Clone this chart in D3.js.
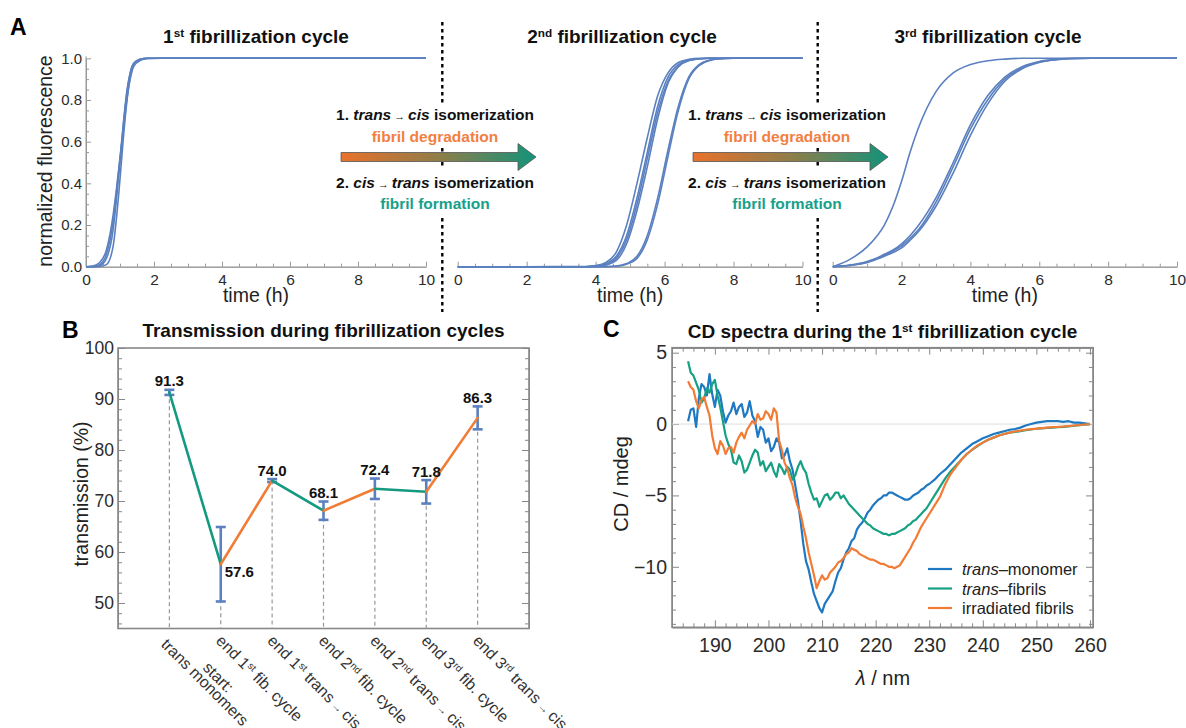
<!DOCTYPE html>
<html>
<head>
<meta charset="utf-8">
<script src="https://cdn.jsdelivr.net/npm/d3@7"></script>
<style>
  body { margin: 0; background: #fff; }
</style>
</head>
<body>
<svg id="fig" width="1186" height="728"></svg>
<script>
// ---------------- data ----------------
// A: normalized ThT fluorescence
const timeTicks = [0, 2, 4, 6, 8, 10];
const fluorTicks = [0, 0.2, 0.4, 0.6, 0.8, 1.0];

const cycle1Time = [0, 0.2, 0.4, 0.6, 0.8, 0.9, 1.0, 1.1, 1.2, 1.3, 1.4, 1.6, 1.8, 2.2, 10];
const cycle1Curves = [
  [0, 0.003, 0.02, 0.08, 0.25, 0.38, 0.52, 0.66, 0.8, 0.9, 0.96, 0.99, 0.998, 1, 1],
  [0, 0, 0.005, 0.04, 0.18, 0.33, 0.5, 0.68, 0.83, 0.93, 0.975, 0.995, 1, 1, 1],
  [0, 0, 0.001, 0.01, 0.1, 0.24, 0.42, 0.62, 0.79, 0.91, 0.97, 0.995, 1, 1, 1],
  [0, 0.001, 0.01, 0.06, 0.22, 0.36, 0.52, 0.69, 0.84, 0.93, 0.975, 0.996, 1, 1, 1]
];

const cycle2Time = [0, 2, 3.7, 4.0, 4.3, 4.6, 4.9, 5.2, 5.5, 5.8, 6.1, 6.4, 6.7, 7.0, 7.3, 7.6, 8.0, 10];
const cycle2Curves = [
  [0, 0, 0.001, 0.005, 0.02, 0.07, 0.2, 0.4, 0.62, 0.82, 0.93, 0.98, 0.995, 1, 1, 1, 1, 1],
  [0, 0, 0, 0.003, 0.015, 0.05, 0.15, 0.33, 0.55, 0.77, 0.91, 0.97, 0.99, 0.998, 1, 1, 1, 1],
  [0, 0, 0, 0.002, 0.01, 0.04, 0.13, 0.3, 0.52, 0.74, 0.89, 0.96, 0.99, 0.998, 1, 1, 1, 1],
  [0, 0, 0, 0.001, 0.008, 0.03, 0.11, 0.27, 0.48, 0.71, 0.88, 0.96, 0.99, 0.997, 1, 1, 1, 1],
  [0, 0, 0, 0, 0.001, 0.003, 0.015, 0.05, 0.15, 0.33, 0.56, 0.77, 0.91, 0.97, 0.99, 0.998, 1, 1],
  [0, 0, 0, 0, 0, 0.002, 0.012, 0.04, 0.13, 0.3, 0.53, 0.75, 0.9, 0.965, 0.99, 0.997, 1, 1]
];

const cycle3Time = [0, 0.5, 1, 1.25, 1.5, 1.75, 2, 2.25, 2.5, 3, 3.5, 4, 4.5, 5, 5.5, 6, 6.5, 7, 7.5, 8, 10];
const cycle3Curves = [
  [0, 0.035, 0.095, 0.14, 0.2, 0.29, 0.41, 0.55, 0.67, 0.84, 0.93, 0.97, 0.988, 0.996, 1, 1, 1, 1, 1, 1, 1],
  [0, 0.008, 0.025, 0.04, 0.06, 0.08, 0.11, 0.15, 0.2, 0.33, 0.5, 0.68, 0.82, 0.91, 0.96, 0.985, 0.995, 1, 1, 1, 1],
  [0, 0.007, 0.022, 0.037, 0.055, 0.075, 0.1, 0.137, 0.18, 0.31, 0.48, 0.66, 0.8, 0.9, 0.955, 0.982, 0.994, 0.999, 1, 1, 1],
  [0, 0.006, 0.02, 0.034, 0.05, 0.068, 0.09, 0.127, 0.17, 0.29, 0.45, 0.63, 0.78, 0.89, 0.95, 0.98, 0.993, 0.998, 1, 1, 1]
];

// B: transmission at each stage
const stageLabels = [
  ["start:", "trans monomers"],
  ["end 1{st} fib. cycle"],
  ["end 1{st} trans→cis"],
  ["end 2{nd} fib. cycle"],
  ["end 2{nd} trans→cis"],
  ["end 3{rd} fib. cycle"],
  ["end 3{rd} trans→cis"]
];
const transmission = [91.3, 57.6, 74.0, 68.1, 72.4, 71.8, 86.3];
const transmissionErr = [0.5, 7.3, 0.3, 1.8, 2.0, 2.3, 2.25];
const transTicks = [50, 60, 70, 80, 90, 100];

// C: CD spectra, 0.5 nm steps up to 230 nm, then 1 nm steps
const cdWavelength = d3.range(185, 230, 0.5).concat(d3.range(230, 261, 1));
const cdMonomer = [
  0.2, 1.0, 1.1, -0.2, 1.8, 2.8, 2.6, 2.0, 3.5, 2.1,
  1.2, 2.4, 2.0, 0.9, 0.1, 0.6, 0.9, 1.5, 0.7, 1.2,
  1.4, 0.5, 0.8, 1.6, 0.6, 0.2, -0.9, -0.2, -0.4, -1.3,
  -1.0, -1.9, -1.6, -1.0, -1.3, -2.4, -2.2, -1.7, -2.6, -3.2,
  -4.3, -5.4, -6.8, -8.4, -9.6, -10.2, -11.1, -11.9, -12.4, -12.9,
  -13.2, -12.6, -12.3, -12.0, -11.7, -11.0, -10.4, -10.1, -9.5, -9.0,
  -8.7, -8.2, -8.0, -7.4, -7.1, -6.9, -6.6, -6.2, -6.0, -5.7,
  -5.5, -5.3, -5.2, -5.0, -5.0, -4.8, -4.8, -4.9, -5.0, -5.1,
  -5.2, -5.3, -5.3, -5.2, -5.0, -4.9, -4.8, -4.6, -4.5, -4.3,
  -4.2,
  -3.9, -3.5, -3.2, -2.8, -2.4, -2.0, -1.7, -1.4, -1.2, -1.0,
  -0.85, -0.7, -0.6, -0.5, -0.4, -0.35, -0.25, -0.1, 0.0, 0.1,
  0.15, 0.2, 0.2, 0.2, 0.15, 0.2, 0.1, 0.1, 0.05, 0.0
];
const cdFibrils = [
  4.4, 3.6, 3.4, 2.9, 2.4, 1.5, 1.8, 2.5, 2.2, 2.8,
  3.1, 2.0, 1.2, 0.2, -0.8, -1.4, -1.8, -2.7, -2.8, -2.2,
  -2.6, -3.4, -3.2, -2.7, -2.2, -1.8, -2.0, -2.9, -2.6, -3.3,
  -3.0, -2.7, -3.3, -3.7, -2.8, -3.1, -3.5, -3.0, -3.2, -3.9,
  -3.6, -3.0, -2.6, -3.1, -3.4, -4.2, -4.8, -5.3, -5.2, -5.8,
  -5.4, -5.0, -4.9, -5.3, -5.1, -4.8, -4.8, -5.2, -5.0, -5.3,
  -5.6, -5.8, -6.0, -6.2, -6.4, -6.6, -6.8, -7.0, -7.1, -7.3,
  -7.4, -7.5, -7.6, -7.7, -7.7, -7.8, -7.7, -7.7, -7.6, -7.5,
  -7.4, -7.3, -7.1, -7.0, -6.8, -6.7, -6.5, -6.3, -6.1, -5.9,
  -5.6,
  -5.0, -4.4, -3.8, -3.3, -2.9, -2.5, -2.1, -1.8, -1.55, -1.3,
  -1.1, -0.95, -0.8, -0.7, -0.6, -0.55, -0.5, -0.42, -0.38, -0.33,
  -0.3, -0.27, -0.25, -0.22, -0.2, -0.16, -0.12, -0.08, -0.04, 0.0
];
const cdIrradiated = [
  3.0, 2.6, 2.4, 1.6, 1.1, 1.7, 1.9, 1.2, 0.6, -0.8,
  -1.7, -2.1, -1.2, -1.5, -2.1, -1.7, -1.6, -2.0, -1.3, -0.9,
  -0.6, -1.0, -0.4, -0.1, 0.2, 0.0, 0.7, 0.3, 0.4, 0.9,
  0.7, 0.3, 1.1, 0.8, -1.2, -1.8, -2.7, -3.1, -3.8, -4.3,
  -5.2, -5.8, -6.3, -7.2, -8.0, -9.0, -9.8, -10.6, -11.5, -11.0,
  -10.6, -10.9, -10.8, -10.4, -10.2, -10.0, -9.7, -9.6, -9.4, -9.1,
  -9.0, -8.7, -8.8, -8.9, -9.1, -9.2, -9.3, -9.4, -9.5, -9.5,
  -9.6, -9.7, -9.8, -9.8, -9.9, -10.0, -10.0, -10.1, -10.0, -9.9,
  -9.6, -9.3, -9.0, -8.7, -8.3, -8.0, -7.6, -7.2, -6.9, -6.6,
  -6.3,
  -5.7, -5.1, -4.2, -3.5, -3.0, -2.5, -2.1, -1.8, -1.5, -1.3,
  -1.1, -0.95, -0.8, -0.7, -0.6, -0.52, -0.46, -0.4, -0.35, -0.32,
  -0.28, -0.25, -0.22, -0.2, -0.17, -0.14, -0.1, -0.07, -0.03, 0.0
];
const cdSeriesNames = ["_trans_–monomer", "_trans_–fibrils", "irradiated fibrils"];
const wavelengthTicks = [190, 200, 210, 220, 230, 240, 250, 260];
const cdTicks = [-10, -5, 0, 5];

// ---------------- drawing ----------------
const FONT = "'Liberation Sans', Arial, Helvetica, sans-serif";
const kineticBlue = "#5b80c0";
const teal = "#149a80";
const orange = "#f07c36";
const cdColors = ["#1f78c2", "#16a084", "#f27b35"];

const svg = d3.select("#fig").attr("font-family", FONT);

// text with {sup}, _italic_ and a small arrow
function richText(sel, str) {
  str.split(/(\{[^}]+\}|_[^_]+_|→)/).filter(s => s !== "").forEach(s => {
    if (s[0] === "{") {
      sel.append("tspan").attr("baseline-shift", "super").attr("font-size", "62%").text(s.slice(1, -1));
    } else if (s[0] === "_") {
      sel.append("tspan").attr("font-style", "italic").text(s.slice(1, -1));
    } else if (s === "→") {
      sel.append("tspan").attr("font-size", "70%").text(" → ");
    } else {
      sel.append("tspan").text(s);
    }
  });
  return sel;
}

function styleAxis(g, color, fs) {
  g.attr("font-family", FONT);
  g.select(".domain").attr("stroke", color);
  g.selectAll(".tick line").attr("stroke", color);
  g.selectAll(".tick text").attr("fill", "#2b2b2b").attr("font-size", fs);
}

// ---- panel A ----
svg.append("text").attr("x", 10).attr("y", 35).attr("font-size", 23).attr("font-weight", "bold").text("A");

// dotted separators sit behind everything else
[442.3, 817.7].forEach(sx => {
  svg.append("line").attr("x1", sx).attr("x2", sx).attr("y1", 22).attr("y2", 312)
    .attr("stroke", "#000").attr("stroke-width", 2.4).attr("stroke-dasharray", "3.5,3.5");
  svg.append("rect").attr("x", sx - 6).attr("y", 103).attr("width", 12).attr("height", 44).attr("fill", "#fff");
  svg.append("rect").attr("x", sx - 6).attr("y", 169).attr("width", 12).attr("height", 46).attr("fill", "#fff");
});

const yA = d3.scaleLinear().domain([0, 1]).range([266.7, 58.3]);
const cycles = [
  { time: cycle1Time, curves: cycle1Curves, range: [86, 426], title: "1{st} fibrillization cycle", titleX: 256 },
  { time: cycle2Time, curves: cycle2Curves, range: [457.7, 802.5], title: "2{nd} fibrillization cycle", titleX: 622 },
  { time: cycle3Time, curves: cycle3Curves, range: [832.7, 1177], title: "3{rd} fibrillization cycle", titleX: 988 }
];

cycles.forEach((c, k) => {
  const x = d3.scaleLinear().domain([0, 10]).range(c.range);
  const minorT = d3.range(0.5, 10, 0.5).filter(t => t % 2 !== 0);
  const gMinor = svg.append("g").attr("transform", `translate(0,${yA(0)})`)
    .call(d3.axisBottom(x).tickValues(minorT).tickSizeInner(-3).tickSizeOuter(0).tickFormat(""));
  styleAxis(gMinor, "#999", 15);
  const gx = svg.append("g").attr("transform", `translate(0,${yA(0)})`)
    .call(d3.axisBottom(x).tickValues(timeTicks).tickSizeInner(-5).tickSizeOuter(0).tickPadding(7).tickFormat(d3.format("d")));
  styleAxis(gx, "#999", 15.5);

  if (k === 0) {
    const minorY = d3.range(0.05, 1, 0.05).filter(v => Math.abs(v * 5 - Math.round(v * 5)) > 1e-6);
    const gyMinor = svg.append("g").attr("transform", `translate(${c.range[0]},0)`)
      .call(d3.axisLeft(yA).tickValues(minorY).tickSizeInner(-3).tickSizeOuter(0).tickFormat(""));
    styleAxis(gyMinor, "#999", 15);
    const gy = svg.append("g").attr("transform", `translate(${c.range[0]},0)`)
      .call(d3.axisLeft(yA).tickValues(fluorTicks).tickSizeInner(-5).tickSizeOuter(0).tickPadding(4).tickFormat(d3.format(".1f")));
    gy.select(".domain").attr("d", `M0,${yA(0)}V${yA(1) - 2}`);
    styleAxis(gy, "#999", 15);

    svg.append("text").attr("transform", `translate(52,161) rotate(-90)`)
      .attr("text-anchor", "middle").attr("font-size", 19.5).attr("fill", "#222")
      .text("normalized fluorescence");
  }

  const line = d3.line().x(d => x(d[0])).y(d => yA(d[1])).curve(d3.curveMonotoneX);
  c.curves.forEach(vals => {
    svg.append("path").datum(c.time.map((t, i) => [t, vals[i]]))
      .attr("d", line).attr("fill", "none").attr("stroke", kineticBlue).attr("stroke-width", 1.6);
  });

  richText(svg.append("text").attr("x", c.titleX).attr("y", 43).attr("text-anchor", "middle")
    .attr("font-size", 19).attr("font-weight", "bold").attr("fill", "#111"), c.title);

  svg.append("text").attr("x", (c.range[0] + c.range[1]) / 2).attr("y", 302)
    .attr("text-anchor", "middle").attr("font-size", 19.5).attr("fill", "#222").text("time (h)");
});

// isomerization arrows between the cycles
const defs = svg.append("defs");
const grad = defs.append("linearGradient").attr("id", "arrowGrad");
[["0%", "#e9712c"], ["50%", "#8f7d48"], ["100%", "#13937a"]].forEach(([o, col]) =>
  grad.append("stop").attr("offset", o).attr("stop-color", col));

[435, 787].forEach(cx => {
  const x0 = cx - 94, xb = cx + 83, xt = cx + 101;
  svg.append("path")
    .attr("d", `M${x0},152.5 L${xb},152.5 L${xb},143.5 L${xt},157 L${xb},170.5 L${xb},161.5 L${x0},161.5 Z`)
    .attr("fill", "url(#arrowGrad)").attr("stroke", "#555").attr("stroke-width", 0.8);

  const t = (y, str, col) => richText(svg.append("text").attr("x", cx).attr("y", y)
    .attr("text-anchor", "middle").attr("font-size", 15.5).attr("font-weight", "bold").attr("fill", col), str);
  t(120, "1. _trans_→_cis_ isomerization", "#111");
  t(141.5, "fibril degradation", "#f2803f");
  t(187.5, "2. _cis_→_trans_ isomerization", "#111");
  t(208.5, "fibril formation", "#17a089");
});

// ---- panel B ----
svg.append("text").attr("x", 62).attr("y", 338).attr("font-size", 23).attr("font-weight", "bold").text("B");
svg.append("text").attr("x", 323.5).attr("y", 337).attr("text-anchor", "middle")
  .attr("font-size", 19).attr("font-weight", "bold").attr("fill", "#111")
  .text("Transmission during fibrillization cycles");

const xB = d3.scaleLinear().domain([-1, 7]).range([118, 529]);
const yB = d3.scaleLinear().domain([45, 100]).range([628.5, 348]);

const minorB = d3.range(46, 100, 2).filter(v => v % 10 !== 0);
[["left", xB(-1)], ["right", xB(7)]].forEach(([side, px]) => {
  const ax = side === "left" ? d3.axisLeft : d3.axisRight;
  const gm = svg.append("g").attr("transform", `translate(${px},0)`)
    .call(ax(yB).tickValues(minorB).tickSizeInner(-4).tickSizeOuter(0).tickFormat(""));
  styleAxis(gm, "#888", 17.5);
  const g = svg.append("g").attr("transform", `translate(${px},0)`)
    .call(ax(yB).tickValues(transTicks).tickSizeInner(-7).tickSizeOuter(0).tickPadding(4)
      .tickFormat(side === "left" ? d3.format("d") : ""));
  styleAxis(g, "#888", 17.5);
});

svg.append("rect").attr("x", xB(-1)).attr("y", yB(100))
  .attr("width", xB(7) - xB(-1)).attr("height", yB(45) - yB(100))
  .attr("fill", "none").attr("stroke", "#888").attr("stroke-width", 1.6);

svg.append("text").attr("transform", `translate(88,494) rotate(-90)`)
  .attr("text-anchor", "middle").attr("font-size", 19.5).attr("fill", "#222").text("transmission (%)");

// dashed guides
svg.selectAll(".guide").data(transmission).enter().append("line")
  .attr("x1", (d, i) => xB(i)).attr("x2", (d, i) => xB(i))
  .attr("y1", d => yB(d)).attr("y2", yB(45))
  .attr("stroke", "#999").attr("stroke-width", 1.2).attr("stroke-dasharray", "4,3");

// error bars
transmission.forEach((v, i) => {
  const e = transmissionErr[i], cx = xB(i);
  const g = svg.append("g").attr("stroke", kineticBlue).attr("stroke-width", 2.6);
  g.append("line").attr("x1", cx).attr("x2", cx).attr("y1", yB(v - e)).attr("y2", yB(v + e));
  g.append("line").attr("x1", cx - 5).attr("x2", cx + 5).attr("y1", yB(v - e)).attr("y2", yB(v - e));
  g.append("line").attr("x1", cx - 5).attr("x2", cx + 5).attr("y1", yB(v + e)).attr("y2", yB(v + e));
});

// alternating segments: fibrillization (teal) / trans->cis (orange)
d3.pairs(transmission).forEach(([a, b], i) => {
  svg.append("line").attr("x1", xB(i)).attr("y1", yB(a)).attr("x2", xB(i + 1)).attr("y2", yB(b))
    .attr("stroke", i % 2 === 0 ? teal : orange).attr("stroke-width", 2.6).attr("stroke-linecap", "round");
});

// value labels
const minT = d3.min(transmission);
transmission.forEach((v, i) => {
  const lbl = svg.append("text").attr("font-size", 15).attr("font-weight", "bold").attr("fill", "#111")
    .text(d3.format(".1f")(v));
  if (v === minT) {
    lbl.attr("x", xB(i) + 4).attr("y", yB(v) + 12.5);
  } else {
    lbl.attr("x", xB(i)).attr("y", yB(v + transmissionErr[i]) - 3.5).attr("text-anchor", "middle");
  }
});

// rotated stage labels
stageLabels.forEach((lines, i) => {
  const g = svg.append("g").attr("transform", `translate(${xB(i)},629) rotate(45)`);
  const texts = lines.map(str => richText(g.append("text").attr("font-size", 16).attr("fill", "#333"), str));
  const widths = texts.map(t => t.node().getComputedTextLength());
  const maxW = d3.max(widths);
  texts.forEach((t, j) => {
    const shift = lines.length > 1 && widths[j] < maxW ? (maxW - widths[j]) / 2 + 6 : 0;
    t.attr("x", 5 + shift).attr("y", 13 + (j - (lines.length - 1)) * 13 + (lines.length - 1) * 5);
  });
});

// ---- panel C ----
svg.append("text").attr("x", 603).attr("y", 337).attr("font-size", 23).attr("font-weight", "bold").text("C");
richText(svg.append("text").attr("x", 882.5).attr("y", 338).attr("text-anchor", "middle")
  .attr("font-size", 19).attr("font-weight", "bold").attr("fill", "#111"),
  "CD spectra during the 1{st} fibrillization cycle");

const xC = d3.scaleLinear().domain([182, 260.56]).range([672, 1093]);
const yC = d3.scaleLinear().domain([-14.24, 5.35]).range([627.3, 347.7]);

const minorX = d3.range(182, 261, 2).filter(v => v % 10 !== 0);
const minorY = d3.range(-14, 6, 1).filter(v => v % 5 !== 0);
[["bottom", yC(-14.24)], ["top", yC(5.35)]].forEach(([side, py]) => {
  const ax = side === "bottom" ? d3.axisBottom : d3.axisTop;
  const gm = svg.append("g").attr("transform", `translate(0,${py})`)
    .call(ax(xC).tickValues(minorX).tickSizeInner(-4).tickSizeOuter(0).tickFormat(""));
  styleAxis(gm, "#888", 19.5);
  const g = svg.append("g").attr("transform", `translate(0,${py})`)
    .call(ax(xC).tickValues(wavelengthTicks).tickSizeInner(-7).tickSizeOuter(0).tickPadding(11)
      .tickFormat(side === "bottom" ? d3.format("d") : ""));
  styleAxis(g, "#888", 19.5);
});
[["left", xC(182)], ["right", xC(260.56)]].forEach(([side, px]) => {
  const ax = side === "left" ? d3.axisLeft : d3.axisRight;
  const gm = svg.append("g").attr("transform", `translate(${px},0)`)
    .call(ax(yC).tickValues(minorY).tickSizeInner(-4).tickSizeOuter(0).tickFormat(""));
  styleAxis(gm, "#888", 19.5);
  const g = svg.append("g").attr("transform", `translate(${px},0)`)
    .call(ax(yC).tickValues(cdTicks).tickSizeInner(-7).tickSizeOuter(0).tickPadding(5)
      .tickFormat(side === "left" ? d3.format("d") : ""));
  styleAxis(g, "#888", 19.5);
});

svg.append("rect").attr("x", xC(182)).attr("y", yC(5.35))
  .attr("width", xC(260.56) - xC(182)).attr("height", yC(-14.24) - yC(5.35))
  .attr("fill", "none").attr("stroke", "#888").attr("stroke-width", 1.6);

svg.append("line").attr("x1", xC(182)).attr("x2", xC(260.56)).attr("y1", yC(0)).attr("y2", yC(0))
  .attr("stroke", "#ddd").attr("stroke-width", 1);

const cdLine = d3.line().x((d, i) => xC(cdWavelength[i])).y(d => yC(d));
[cdMonomer, cdFibrils, cdIrradiated].forEach((series, k) => {
  svg.append("path").datum(series).attr("d", cdLine)
    .attr("fill", "none").attr("stroke", cdColors[k]).attr("stroke-width", 2.2)
    .attr("stroke-linejoin", "round");
});

// legend
cdSeriesNames.forEach((name, k) => {
  const y = 569 + k * 19.5;
  svg.append("line").attr("x1", 928).attr("x2", 952).attr("y1", y).attr("y2", y)
    .attr("stroke", cdColors[k]).attr("stroke-width", 2.2);
  richText(svg.append("text").attr("x", 962).attr("y", y + 6).attr("font-size", 16.5).attr("fill", "#222"), name);
});

svg.append("text").attr("transform", `translate(628,484) rotate(-90)`)
  .attr("text-anchor", "middle").attr("font-size", 20).attr("fill", "#222").text("CD / mdeg");
richText(svg.append("text").attr("x", 883).attr("y", 685).attr("text-anchor", "middle")
  .attr("font-size", 20).attr("fill", "#222"), "_λ_ / nm");
</script>
</body>
</html>
